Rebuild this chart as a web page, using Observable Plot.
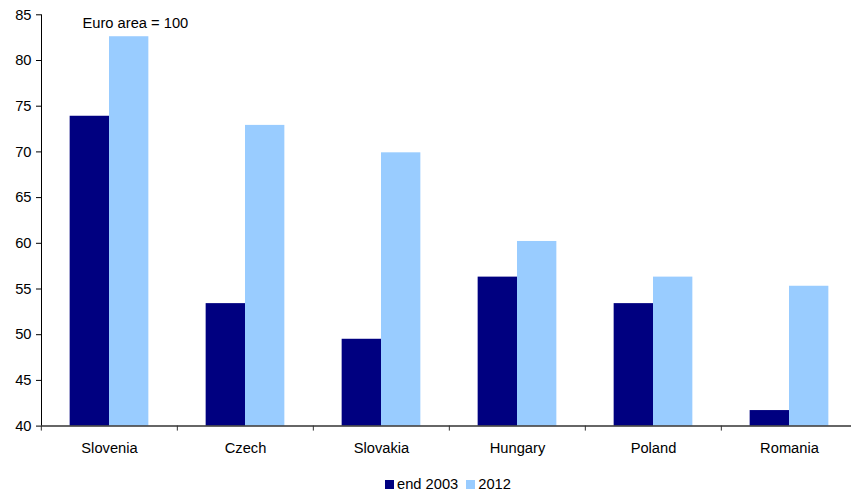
<!DOCTYPE html>
<html>
<head>
<meta charset="utf-8">
<script src="https://cdn.jsdelivr.net/npm/d3@7"></script>
<script src="https://cdn.jsdelivr.net/npm/@observablehq/plot@0.6"></script>
<style>
  body { margin: 0; background: #fff; font-family: "Liberation Sans", Arial, sans-serif; }
  #chart svg { display: block; }
  #legend { height: 28px; box-sizing: border-box; padding-top: 13px; padding-left: 385px; display: flex; }
  #legend .item { display: flex; align-items: center; height: 13px; font-size: 14.7px; line-height: 13px; color: #000; margin-right: 8px; }
  #legend .swatch { width: 9px; height: 9px; margin-right: 3px; }
</style>
</head>
<body>
<div id="chart"></div>
<div id="legend"></div>
<script>
// Price level relative to the euro area (euro area = 100)
const countries = ["Slovenia", "Czech", "Slovakia", "Hungary", "Poland", "Romania"];
const seriesNames = ["end 2003", "2012"];
const valuesEnd2003 = [73.9, 53.4, 49.5, 56.3, 53.4, 41.7];
const values2012 = [82.6, 72.9, 69.9, 60.2, 56.3, 55.3];
const yTicks = [40, 45, 50, 55, 60, 65, 70, 75, 80, 85];
const seriesColors = ["#000080", "#99ccff"];
const note = "Euro area = 100";

const data = countries.flatMap((c, i) => [
  {country: c, series: seriesNames[0], value: valuesEnd2003[i]},
  {country: c, series: seriesNames[1], value: values2012[i]}
]);

const W = 851, H = 465;
const mL = 40, mR = -7, mT = 14.3, mB = 39.4;
const step = (W - mR - mL) / countries.length;
const font = '"Liberation Sans", Arial, sans-serif';
const fs = 14.7;

const chart = Plot.plot({
  width: W,
  height: H,
  marginLeft: mL,
  marginRight: mR,
  marginTop: mT,
  marginBottom: mB,
  style: {fontFamily: font, fontSize: fs + "px", color: "#000", background: "#fff", overflow: "hidden", maxWidth: "none"},
  fx: {domain: countries, padding: 0},
  x: {domain: seriesNames, paddingInner: 0, paddingOuter: 0.728, axis: null, round: false},
  y: {domain: [yTicks[0], yTicks[yTicks.length - 1]], ticks: yTicks, tickSize: 5, tickPadding: 5, line: true, label: null},
  color: {domain: seriesNames, range: seriesColors},
  marks: [
    Plot.barY(data, {fx: "country", x: "series", y1: yTicks[0], y2: "value", fill: "series"}),
    Plot.ruleY([yTicks[0]], {stroke: "#333", strokeWidth: 1.5}),
    Plot.axisFx({anchor: "bottom", tickSize: 0, tickPadding: 16, label: null, fontSize: fs}),
    Plot.axisFx({anchor: "bottom", tickSize: 5, tickFormat: () => "", label: null, dx: -step / 2, stroke: "#333"}),
    Plot.text([{country: countries[0], note}], {
      fx: "country", text: "note", frameAnchor: "top-left", textAnchor: "start",
      dx: 41, dy: 3, fontSize: fs
    })
  ]
});
document.getElementById("chart").append(chart);

// Legend below the chart
const legend = d3.select("#legend");
seriesNames.forEach((name, i) => {
  const item = legend.append("div").attr("class", "item");
  item.append("div").attr("class", "swatch").style("background", seriesColors[i]);
  item.append("span").text(name);
});
</script>
</body>
</html>
